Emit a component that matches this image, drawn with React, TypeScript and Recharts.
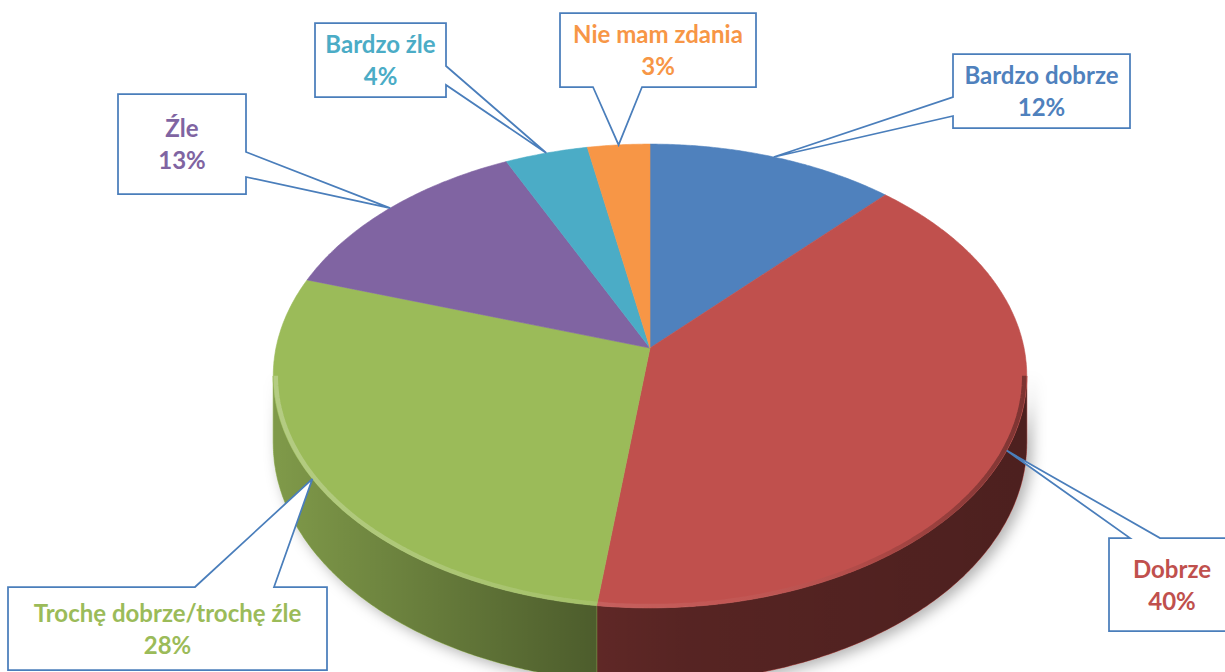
import { PieChart, Pie, Cell } from "recharts";

const CATEGORIES = ["Bardzo dobrze", "Dobrze", "Trochę dobrze/trochę źle", "Źle", "Bardzo źle", "Nie mam zdania"];
const SHARES = [12, 40, 28, 13, 4, 3];
const COLORS = ["#4F81BD", "#C0504D", "#9BBB59", "#8064A2", "#4BACC6", "#F79646"];

// where each callout box sits and which side its pointer leaves from (p0..p1 along that side)
const CALLOUTS = [
  { x: 953, y: 54, w: 177, h: 74, side: "left", p0: 97, p1: 116 },
  { x: 1109, y: 538, w: 126, h: 93, side: "top", p0: 1130, p1: 1160 },
  { x: 8, y: 587, w: 319, h: 83, side: "top", p0: 195, p1: 274 },
  { x: 118, y: 94, w: 128, h: 100, side: "right", p0: 152, p1: 177 },
  { x: 315, y: 23, w: 131, h: 74, side: "right", p0: 66, p1: 85 },
  { x: 560, y: 13, w: 196, h: 74, side: "bottom", p0: 593, p1: 642 },
];

const data = CATEGORIES.map((name, i) => ({ name, value: SHARES[i] }));

const CX = 650;
const CY = 348;
const R = 374;
const TILT = 0.611; // how flat the disc looks
const PERSP = 0.1207; // far side shrinks a bit
const DEPTH = 66;
const EDGE = (Math.asin(PERSP) * 180) / Math.PI;
const FRONT_LO = -(180 - EDGE);
const FRONT_HI = -EDGE;
const FONT = "Lato, 'Open Sans', sans-serif";

function proj(cx: number, cy: number, r: number, deg: number) {
  const t = (deg * Math.PI) / 180;
  const d = 1 + PERSP * Math.sin(t);
  return [cx + (r * Math.cos(t)) / d, cy - (r * TILT * Math.sin(t)) / d, d];
}

function arcPts(cx: number, cy: number, r: number, a0: number, a1: number) {
  const n = Math.max(2, Math.ceil(Math.abs(a1 - a0) / 0.5));
  const pts = [];
  for (let i = 0; i <= n; i++) pts.push(proj(cx, cy, r, a0 + ((a1 - a0) * i) / n));
  return pts;
}

function frontPieces(s: number, e: number) {
  const lo = Math.min(s, e);
  const hi = Math.max(s, e);
  const out: number[][] = [];
  for (let m = -1; m <= 1; m++) {
    const a = Math.max(lo, FRONT_LO + 360 * m);
    const b = Math.min(hi, FRONT_HI + 360 * m);
    if (b > a) out.push([a, b]);
  }
  return out;
}

const toPath = (pts: number[][]) => "M" + pts.map((p) => p[0].toFixed(1) + "," + p[1].toFixed(1)).join("L");

function Wall(props: any) {
  const { cx, cy, outerRadius, startAngle, endAngle, fill } = props;
  return (
    <g>
      {frontPieces(startAngle, endAngle).map(([a, b], j) => {
        const top = arcPts(cx, cy, outerRadius, a, b);
        const bottom = top.map((p) => [p[0], p[1] + DEPTH / p[2]]).reverse();
        const d = toPath([...top, ...bottom]) + "Z";
        return (
          <g key={j}>
            <path d={d} fill={fill} stroke={fill} strokeWidth={0.8} />
            <path d={d} fill="url(#wallShade)" />
          </g>
        );
      })}
    </g>
  );
}

function Top(props: any) {
  const { cx, cy, outerRadius, startAngle, endAngle, fill } = props;
  const d = toPath([[cx, cy], ...arcPts(cx, cy, outerRadius, startAngle, endAngle)]) + "Z";
  return (
    <g>
      <path d={d} fill={fill} stroke={fill} strokeWidth={0.6} />
      {frontPieces(startAngle, endAngle).map(([a, b], j) => (
        <path key={j} d={toPath(arcPts(cx, cy, outerRadius - 2.5, a, b))} fill="none" stroke="url(#rim)" strokeWidth={4.5} />
      ))}
    </g>
  );
}

function calloutPath(c: any, ax: number, ay: number) {
  const r = c.x + c.w;
  const b = c.y + c.h;
  const pts: number[][] = [[c.x, c.y]];
  if (c.side === "top") pts.push([c.p0, c.y], [ax, ay], [c.p1, c.y]);
  pts.push([r, c.y]);
  if (c.side === "right") pts.push([r, c.p0], [ax, ay], [r, c.p1]);
  pts.push([r, b]);
  if (c.side === "bottom") pts.push([c.p1, b], [ax, ay], [c.p0, b]);
  pts.push([c.x, b]);
  if (c.side === "left") pts.push([c.x, c.p1], [ax, ay], [c.x, c.p0]);
  return toPath(pts) + "Z";
}

function Callout(props: any) {
  const { index, midAngle, cx, cy, outerRadius, name, percent } = props;
  const c = CALLOUTS[index];
  const [ax, ay] = proj(cx, cy, outerRadius, midAngle);
  const tx = c.x + c.w / 2;
  const ty = c.y + c.h / 2 - 7;
  const color = COLORS[index];
  return (
    <g>
      <path d={calloutPath(c, ax, ay)} fill="#fff" stroke="#4A7EBB" strokeWidth={1.75} strokeLinejoin="miter" />
      <text x={tx} y={ty} textAnchor="middle" fill={color} fontSize={24} fontWeight={700} fontFamily={FONT}>
        {name}
      </text>
      <text x={tx} y={ty + 32} textAnchor="middle" fill={color} fontSize={24} fontWeight={700} fontFamily={FONT}>
        {Math.round(percent * 100)}%
      </text>
    </g>
  );
}

export default function App() {
  return (
    <div style={{ position: "absolute", left: 0, top: 0, width: 1225, height: 672, background: "#fff" }}>
      <style>{`body{margin:0} .pie-walls{filter:drop-shadow(5px 4px 7px rgba(0,0,0,0.3));}`}</style>
      <PieChart width={1225} height={672} margin={{ top: 0, right: 0, bottom: 0, left: 0 }}>
        <defs>
          <linearGradient id="wallShade" gradientUnits="userSpaceOnUse" x1={276} y1={0} x2={1024} y2={0}>
            <stop offset="0%" stopColor="#000" stopOpacity={0.18} />
            <stop offset="42%" stopColor="#000" stopOpacity={0.5} />
            <stop offset="55%" stopColor="#000" stopOpacity={0.55} />
            <stop offset="100%" stopColor="#000" stopOpacity={0.6} />
          </linearGradient>
          <linearGradient id="rim" gradientUnits="userSpaceOnUse" x1={276} y1={0} x2={1024} y2={0}>
            <stop offset="0%" stopColor="#fff" stopOpacity={0.25} />
            <stop offset="35%" stopColor="#fff" stopOpacity={0.12} />
            <stop offset="60%" stopColor="#fff" stopOpacity={0.04} />
            <stop offset="80%" stopColor="#000" stopOpacity={0.1} />
            <stop offset="100%" stopColor="#000" stopOpacity={0.35} />
          </linearGradient>
        </defs>
        <Pie
          className="pie-walls"
          data={data}
          dataKey="value"
          nameKey="name"
          cx={CX}
          cy={CY}
          outerRadius={R}
          startAngle={90}
          endAngle={-270}
          stroke="none"
          shape={Wall}
          inactiveShape={Wall}
          activeShape={Wall}
          isAnimationActive={false}
        >
          {data.map((_, i) => (
            <Cell key={i} fill={COLORS[i]} />
          ))}
        </Pie>
        <Pie
          data={data}
          dataKey="value"
          nameKey="name"
          cx={CX}
          cy={CY}
          outerRadius={R}
          startAngle={90}
          endAngle={-270}
          stroke="none"
          shape={Top}
          inactiveShape={Top}
          activeShape={Top}
          label={Callout}
          labelLine={false}
          isAnimationActive={false}
        >
          {data.map((_, i) => (
            <Cell key={i} fill={COLORS[i]} />
          ))}
        </Pie>
      </PieChart>
    </div>
  );
}
